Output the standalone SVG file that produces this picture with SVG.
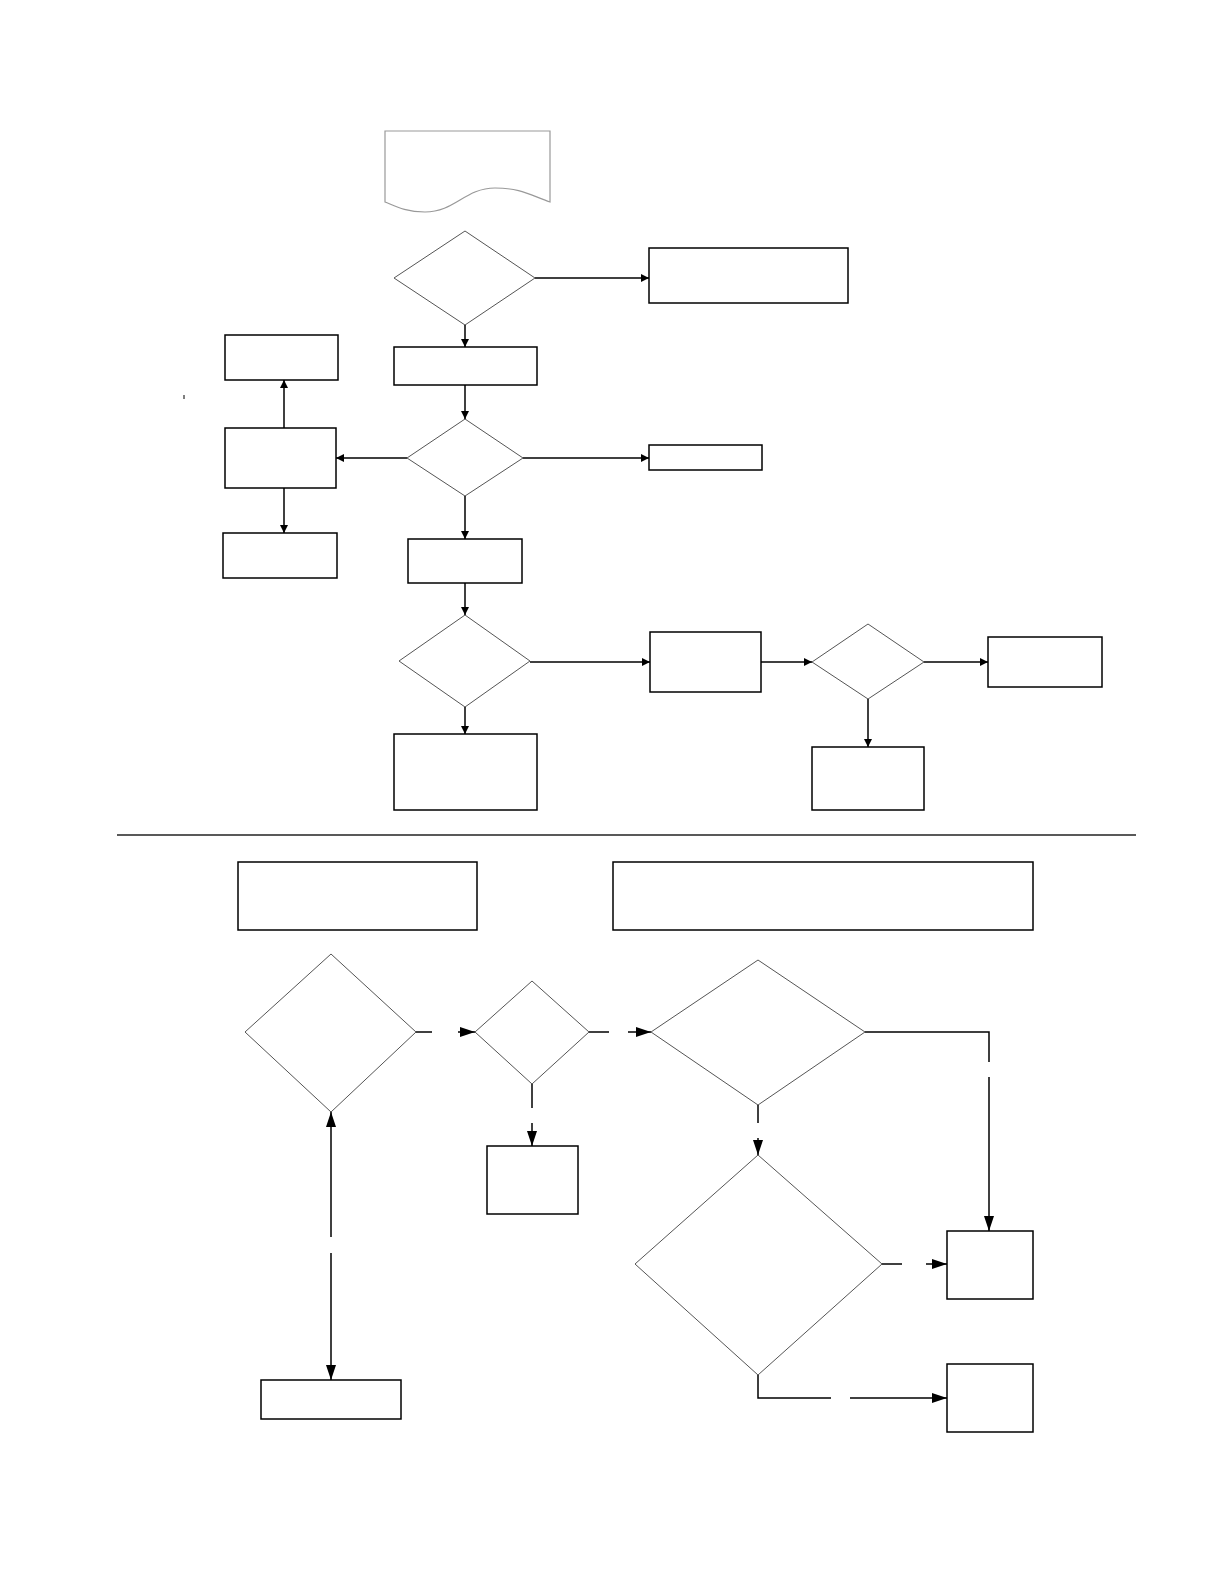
<svg xmlns="http://www.w3.org/2000/svg" width="1224" height="1584" viewBox="0 0 1224 1584">
<style>
.box{fill:#fff;stroke:#000;stroke-width:1.5}
.dia{fill:#fff;stroke:#555;stroke-width:1}
.doc{fill:#fff;stroke:#999;stroke-width:1.2}
.c{fill:none;stroke:#000;stroke-width:1.5}
.ca{fill:none;stroke:#000;stroke-width:1.5;marker-end:url(#a)}
.cb{fill:none;stroke:#000;stroke-width:1.5;marker-end:url(#b)}
</style>
<defs>
<marker id="a" viewBox="0 0 10 10" refX="10" refY="5" markerWidth="8" markerHeight="8" markerUnits="userSpaceOnUse" orient="auto"><path d="M0,0 L10,5 L0,10 Z" fill="#000"/></marker>
<marker id="b" viewBox="0 0 10 10" refX="10" refY="5" markerWidth="15" markerHeight="10" markerUnits="userSpaceOnUse" orient="auto" preserveAspectRatio="none"><path d="M0,0 L10,5 L0,10 Z" fill="#000"/></marker>
</defs>
<rect width="1224" height="1584" fill="#fff"/>

<g id="doc1"><path class="doc" d="M385,202 L385,131 L550,131 L550,202 C530,195 520,188 495,188 C465,188 455,212 425,212 C405,212 395,206 385,202 Z"/></g>
<g id="d1"><polygon class="dia" points="465,231 535,278 465,325 394,278"/></g>
<g id="b1"><rect class="box" x="649" y="248" width="199" height="55"/></g>
<g id="b2"><rect class="box" x="394" y="347" width="143" height="38"/></g>
<g id="d2"><polygon class="dia" points="465,419 523,458 465,496 407,458"/></g>
<g id="b3"><rect class="box" x="225" y="335" width="113" height="45"/></g>
<g id="b4"><rect class="box" x="225" y="428" width="111" height="60"/></g>
<g id="b5"><rect class="box" x="223" y="533" width="114" height="45"/></g>
<g id="b6"><rect class="box" x="649" y="445" width="113" height="25"/></g>
<g id="b7"><rect class="box" x="408" y="539" width="114" height="44"/></g>
<g id="d3"><polygon class="dia" points="465,615 530,661 465,707 399,661"/></g>
<g id="b8"><rect class="box" x="650" y="632" width="111" height="60"/></g>
<g id="d4"><polygon class="dia" points="868,624 924,662 868,699 812,662"/></g>
<g id="b9"><rect class="box" x="988" y="637" width="114" height="50"/></g>
<g id="b10"><rect class="box" x="812" y="747" width="112" height="63"/></g>
<g id="b11"><rect class="box" x="394" y="734" width="143" height="76"/></g>
<g id="mark"><line x1="184" y1="395" x2="184" y2="399" stroke="#000" stroke-width="1"/></g>

<g id="sep"><line x1="117" y1="835" x2="1136" y2="835" stroke="#222" stroke-width="1.5"/></g>

<g id="b12"><rect class="box" x="238" y="862" width="239" height="68"/></g>
<g id="b13"><rect class="box" x="613" y="862" width="420" height="68"/></g>
<g id="d5"><polygon class="dia" points="331,954 416,1032 331,1112 245,1032"/></g>
<g id="d6"><polygon class="dia" points="532,981 589,1032 532,1084 475,1032"/></g>
<g id="d7"><polygon class="dia" points="758,960 865,1032 758,1105 651,1032"/></g>
<g id="d8"><polygon class="dia" points="758,1155 882,1264 758,1375 635,1264"/></g>
<g id="b14"><rect class="box" x="487" y="1146" width="91" height="68"/></g>
<g id="b15"><rect class="box" x="261" y="1380" width="140" height="39"/></g>
<g id="b16"><rect class="box" x="947" y="1231" width="86" height="68"/></g>
<g id="b17"><rect class="box" x="947" y="1364" width="86" height="68"/></g>

<g id="connectors">
<path class="ca" d="M535,278 H649"/>
<path class="ca" d="M465,325 V347"/>
<path class="ca" d="M465,385 V419"/>
<path class="ca" d="M407,458 H336"/>
<path class="ca" d="M523,458 H649"/>
<path class="ca" d="M284,428 V380"/>
<path class="ca" d="M284,488 V533"/>
<path class="ca" d="M465,496 V539"/>
<path class="ca" d="M465,583 V615"/>
<path class="ca" d="M530,662 H650"/>
<path class="ca" d="M465,707 V734"/>
<path class="ca" d="M761,662 H812"/>
<path class="ca" d="M924,662 H988"/>
<path class="ca" d="M868,699 V747"/>

<path class="c" d="M416,1032 H432"/>
<path class="cb" d="M458,1032 H475"/>
<path class="c" d="M589,1032 H609"/>
<path class="cb" d="M628,1032 H651"/>
<path class="c" d="M532,1084 V1108"/>
<path class="cb" d="M532,1123 V1146"/>
<path class="cb" d="M331,1237 V1112"/>
<path class="cb" d="M331,1253 V1380"/>
<path class="c" d="M865,1032 H989 V1062"/>
<path class="cb" d="M989,1077 V1231"/>
<path class="c" d="M758,1105 V1123"/>
<path class="cb" d="M758,1138 V1155"/>
<path class="c" d="M882,1264 H902"/>
<path class="cb" d="M926,1264 H947"/>
<path class="c" d="M758,1375 V1398 H831"/>
<path class="cb" d="M850,1398 H947"/>
</g>
</svg>
